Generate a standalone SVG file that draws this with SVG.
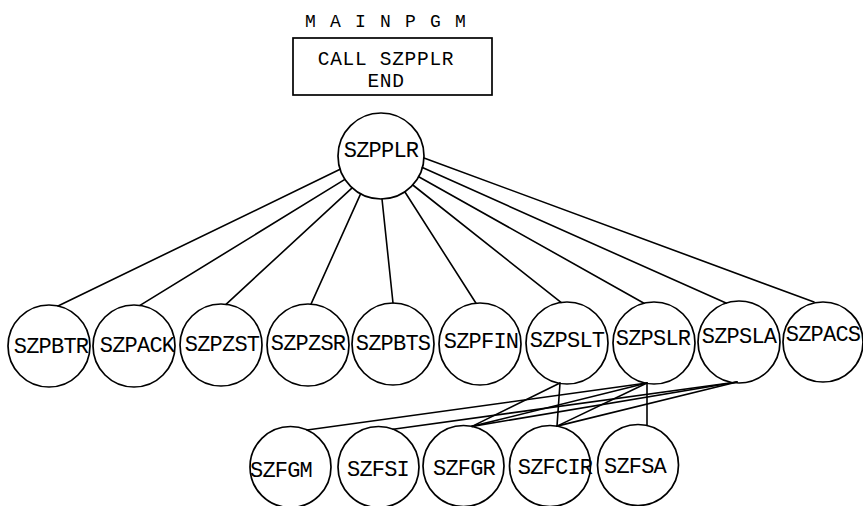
<svg xmlns="http://www.w3.org/2000/svg" width="863" height="506" viewBox="0 0 863 506">
<style>
  .bg { fill: #ffffff; }
  .node circle { fill: none; stroke: #000; stroke-width: 1.7; }
  .box { fill: none; stroke: #000; stroke-width: 1.7; }
  .lbl { font-family: "Liberation Mono", "DejaVu Sans Mono", monospace; font-size: 22px; letter-spacing: -0.8px; fill: #000; text-anchor: middle; }
  .call { font-family: "Liberation Mono", "DejaVu Sans Mono", monospace; font-size: 19.5px; letter-spacing: 0.7px; fill: #000; text-anchor: middle; }
  .title { font-family: "Liberation Mono", "DejaVu Sans Mono", monospace; font-size: 18px; letter-spacing: 1.7px; fill: #000; }
  #connectors line { stroke: #000; stroke-width: 1.6; stroke-linecap: round; }
</style>
<rect class="bg" x="0" y="0" width="863" height="506"/>

<g id="mainpgm">
  <text class="title" x="305" y="27">M A I N P G M</text>
  <rect class="box" x="293" y="38" width="199" height="57"/>
  <text class="call" x="386" y="65">CALL SZPPLR</text>
  <text class="call" x="386" y="87">END</text>
</g>

<g id="connectors">
  <line x1="340.1" y1="169.3" x2="58" y2="306"/>
  <line x1="344.9" y1="179.4" x2="140" y2="305.4"/>
  <line x1="352.1" y1="187.9" x2="226" y2="304.3"/>
  <line x1="360.6" y1="193.9" x2="311" y2="304.1"/>
  <line x1="382" y1="199" x2="393" y2="303"/>
  <line x1="404.8" y1="191.8" x2="476" y2="303.2"/>
  <line x1="412.8" y1="185" x2="561" y2="302.4"/>
  <line x1="418.7" y1="176.7" x2="644" y2="303.2"/>
  <line x1="422.4" y1="167.6" x2="726" y2="303.1"/>
  <line x1="424" y1="158" x2="814" y2="302"/>

  <line x1="560" y1="383" x2="472" y2="426.4"/>
  <line x1="560" y1="383" x2="557" y2="426.1"/>
  <line x1="647" y1="383" x2="307" y2="430"/>
  <line x1="647" y1="383" x2="472" y2="426.4"/>
  <line x1="647" y1="383" x2="557" y2="426.1"/>
  <line x1="647" y1="383" x2="647" y2="425.5"/>
  <line x1="737" y1="382" x2="393" y2="429.2"/>
  <line x1="737" y1="382" x2="472" y2="426.4"/>
  <line x1="737" y1="382" x2="557" y2="426.1"/>
</g>

<g id="SZPPLR" class="node">
  <circle cx="381" cy="156" r="43"/>
  <text class="lbl" x="381" y="157">SZPPLR</text>
</g>

<g id="SZPBTR" class="node">
  <circle cx="49" cy="346" r="41"/>
  <text class="lbl" x="51" y="353">SZPBTR</text>
</g>
<g id="SZPACK" class="node">
  <circle cx="134" cy="346" r="41"/>
  <text class="lbl" x="137" y="352">SZPACK</text>
</g>
<g id="SZPZST" class="node">
  <circle cx="221" cy="345" r="41"/>
  <text class="lbl" x="222" y="351">SZPZST</text>
</g>
<g id="SZPZSR" class="node">
  <circle cx="308" cy="345" r="41"/>
  <text class="lbl" x="308" y="350">SZPZSR</text>
</g>
<g id="SZPBTS" class="node">
  <circle cx="393" cy="344" r="41"/>
  <text class="lbl" x="393" y="350">SZPBTS</text>
</g>
<g id="SZPFIN" class="node">
  <circle cx="480" cy="344" r="41"/>
  <text class="lbl" x="481" y="348">SZPFIN</text>
</g>
<g id="SZPSLT" class="node">
  <circle cx="567" cy="343" r="41"/>
  <text class="lbl" x="567" y="347">SZPSLT</text>
</g>
<g id="SZPSLR" class="node">
  <circle cx="654" cy="343" r="41"/>
  <text class="lbl" x="653" y="345">SZPSLR</text>
</g>
<g id="SZPSLA" class="node">
  <circle cx="739" cy="342" r="41"/>
  <text class="lbl" x="739" y="343">SZPSLA</text>
</g>
<g id="SZPACS" class="node">
  <circle cx="823" cy="342" r="40"/>
  <text class="lbl" x="823" y="341">SZPACS</text>
</g>

<g id="SZFGM" class="node">
  <circle cx="290.5" cy="467" r="40.5"/>
  <text class="lbl" x="281" y="477">SZFGM</text>
</g>
<g id="SZFSI" class="node">
  <circle cx="378.5" cy="467" r="40.5"/>
  <text class="lbl" x="378" y="476">SZFSI</text>
</g>
<g id="SZFGR" class="node">
  <circle cx="463.5" cy="466" r="40.5"/>
  <text class="lbl" x="464" y="475">SZFGR</text>
</g>
<g id="SZFCIR" class="node">
  <circle cx="550" cy="466" r="40.5"/>
  <text class="lbl" x="555" y="474">SZFCIR</text>
</g>
<g id="SZFSA" class="node">
  <circle cx="638" cy="465" r="40.5"/>
  <text class="lbl" x="635" y="473">SZFSA</text>
</g>
</svg>
